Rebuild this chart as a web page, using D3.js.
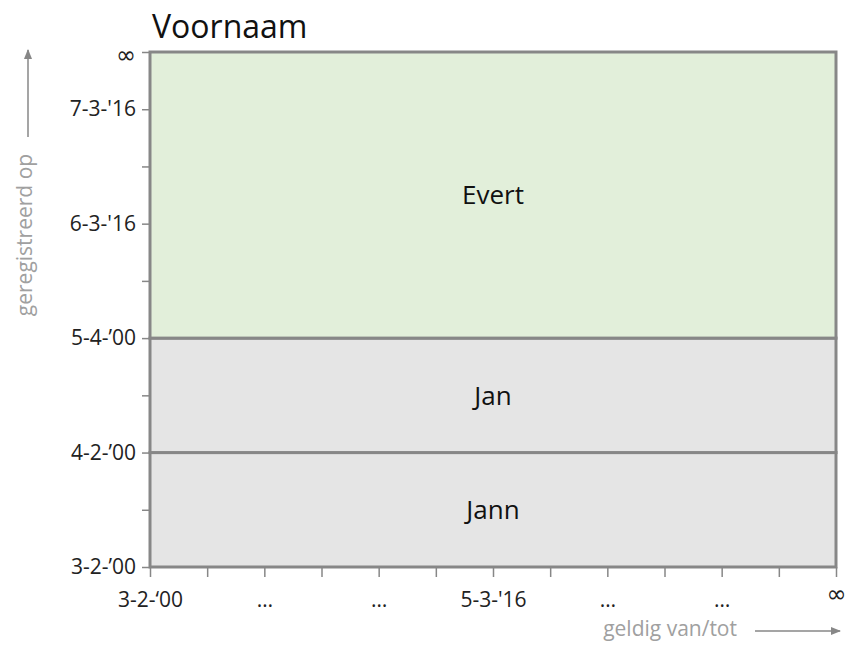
<html>
<title>Voornaam - bitemporeel</title>
<script src="https://d3js.org/d3.v7.min.js"></script>
<style>
body { margin: 0; background: #fff; }
text { font-family: "Open Sans", sans-serif; }
</style>
<body>
<svg width="846" height="645"></svg>
<script>

// tick labels along the two time axes
var xTickLabels = ["3-2-\u201800", "", "\u2026", "", "\u2026", "", "5-3-'16", "", "\u2026", "", "\u2026", "", "\u221e"];
var yTickLabels = ["3-2-\u201900", "", "4-2-\u201900", "", "5-4-\u201900", "", "6-3-'16", "", "7-3-'16", "\u221e"];

// the records: name, registered from/to (tick index), valid from/to (tick index)
var names = ["Jann", "Jan", "Evert"];
var regFrom = [0, 2, 4];
var regTo = [2, 4, 9];
var validFrom = [0, 0, 0];
var validTo = [12, 12, 12];
var cellColors = ["#e5e5e5", "#e5e5e5", "#e2efda"];

var svg = d3.select("svg");
var mLeft = 150, mRight = 836, mTop = 52, mBottom = 567;
var grey = "#878787";

var x = d3.scaleLinear().domain([0, 12]).range([mLeft, mRight]);
var y = d3.scaleLinear().domain([0, 9]).range([mBottom, mTop]);

// cells
var cells = svg.selectAll("g.cell").data(names).enter().append("g").attr("class", "cell");
cells.append("rect")
	.attr("x", function (d, i) { return x(validFrom[i]); })
	.attr("width", function (d, i) { return x(validTo[i]) - x(validFrom[i]); })
	.attr("y", function (d, i) { return y(regTo[i]); })
	.attr("height", function (d, i) { return y(regFrom[i]) - y(regTo[i]); })
	.style("fill", function (d, i) { return cellColors[i]; })
	.style("stroke", grey)
	.style("stroke-width", 3);
cells.append("text")
	.attr("x", function (d, i) { return x((validFrom[i] + validTo[i]) / 2); })
	.attr("y", function (d, i) { return y((regFrom[i] + regTo[i]) / 2); })
	.attr("text-anchor", "middle")
	.attr("dy", "0.36em")
	.style("font-size", "26px")
	.style("fill", "#111")
	.text(function (d) { return d; });

// axes
var yAxis = d3.axisLeft(y).tickValues(d3.range(0, 10)).tickSize(8).tickPadding(6)
	.tickFormat(function (d) { return yTickLabels[d]; });
var xAxis = d3.axisBottom(x).tickValues(d3.range(0, 13)).tickSize(10).tickPadding(15)
	.tickFormat(function (d) { return xTickLabels[d]; });

var gy = svg.append("g").attr("transform", "translate(" + mLeft + ",0)").call(yAxis);
var gx = svg.append("g").attr("transform", "translate(0," + mBottom + ")").call(xAxis);
[gy, gx].forEach(function (g) {
	g.select(".domain").remove();
	g.selectAll(".tick line").style("stroke", grey).style("stroke-width", 1.5);
	g.selectAll(".tick text").style("font-size", "21px").style("fill", "#222").style("font-family", "Open Sans, sans-serif");
	g.selectAll(".tick text").filter(function (d) { return d === (g === gy ? 9 : 12); })
		.style("font-family", "DejaVu Sans, sans-serif").style("font-size", "24px");
});
gy.selectAll(".tick text").filter(function (d) { return d === 9; }).attr("dy", "0.45em");
gx.selectAll(".tick text").filter(function (d) { return d === 12; }).attr("dy", "0.4em");

// title
svg.append("text").attr("x", 152).attr("y", 38)
	.style("font-size", "32px").style("fill", "#111").text("Voornaam");

// axis titles with arrows
svg.append("defs").append("marker")
	.attr("id", "arr").attr("viewBox", "0 0 10 10").attr("refX", 9).attr("refY", 5)
	.attr("markerWidth", 7).attr("markerHeight", 7).attr("orient", "auto")
	.append("path").attr("d", "M0,1 L10,5 L0,9 Z").style("fill", grey);

svg.append("text")
	.attr("transform", "translate(32,235) rotate(-90)")
	.attr("text-anchor", "middle")
	.style("font-size", "21px").style("fill", "#a0a0a0").text("geregistreerd op");
svg.append("line").attr("x1", 28).attr("x2", 28).attr("y1", 137).attr("y2", 50)
	.style("stroke", grey).style("stroke-width", 1.5).attr("marker-end", "url(#arr)");

svg.append("text")
	.attr("x", 737).attr("y", 636).attr("text-anchor", "end")
	.style("font-size", "21px").style("fill", "#a0a0a0").text("geldig van/tot");
svg.append("line").attr("x1", 755).attr("x2", 840).attr("y1", 631).attr("y2", 631)
	.style("stroke", grey).style("stroke-width", 1.5).attr("marker-end", "url(#arr)");

</script>
</body>
</html>
